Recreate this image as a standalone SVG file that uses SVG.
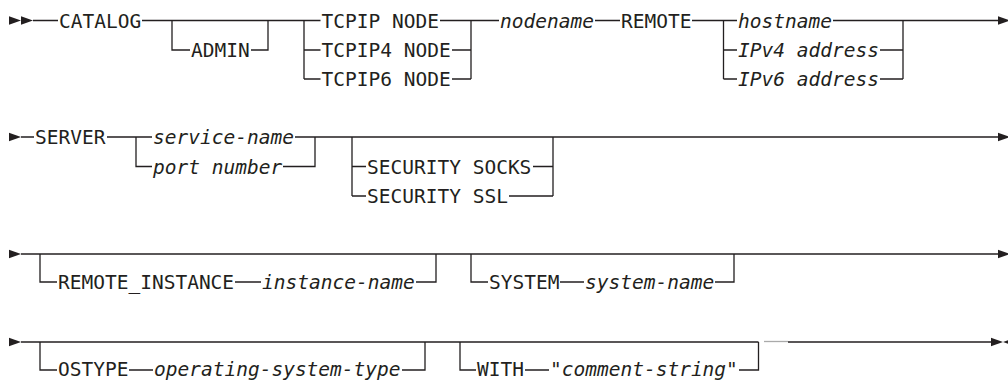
<svg xmlns="http://www.w3.org/2000/svg" width="1008" height="381" viewBox="0 0 1008 381">
<style>
text{font-family:"DejaVu Sans Mono","Liberation Mono",monospace;font-size:19.5px;fill:#231f20}
.v{font-style:italic}
.ln path,.nd path{fill:none;stroke:#231f20;stroke-width:1.3}
.ar{fill:#231f20;stroke:none}
</style>
<defs>
<path id="ra" class="ar" d="M0,-4.2 L12,0 L0,4.2 Z"/>
<path id="la" class="ar" d="M12,-4.2 L0,0 L12,4.2 Z"/>
</defs>
<g id="connectors" class="ln">
<path d="M33,20.5H58M142,20.5H320.5M440,20.5H499M595,20.5H620M692,20.5H737M833,20.5H999"/>
<path d="M21,137H34M107,137H152M295,137H999"/>
<path d="M21,254H999"/>
<path d="M21,342H758.5M788,342H991"/>
<path d="M764,341.5H788" style="stroke:#aaa"/>
</g>
<g id="terminals">
<use href="#ra" x="9" y="20.5"/><use href="#ra" x="21" y="20.5"/>
<use href="#ra" x="998" y="20.5"/>
<use href="#ra" x="9" y="137"/><use href="#ra" x="998" y="137"/>
<use href="#ra" x="9" y="254"/><use href="#ra" x="998" y="254"/>
<use href="#ra" x="9" y="342"/><use href="#ra" x="991" y="342"/><use href="#la" x="1003" y="342"/>
</g>
<g id="catalog" class="nd"><text x="59" y="27.5">CATALOG</text></g>
<g id="admin" class="nd"><path d="M172,20.5V50H190M251,50H268V20.5"/><text x="191" y="57">ADMIN</text></g>
<g id="protocol" class="nd">
<path d="M304,20.5V79M304,50H320.5M304,79H320.5M452,50H471M452,79H471M471,20.5V79"/>
<text x="321.5" y="27.5">TCPIP NODE</text>
<text x="321.5" y="57">TCPIP4 NODE</text>
<text x="321.5" y="86">TCPIP6 NODE</text>
</g>
<g id="nodename" class="nd"><text class="v" x="500" y="27.5">nodename</text></g>
<g id="remote" class="nd"><text x="621" y="27.5">REMOTE</text></g>
<g id="host" class="nd">
<path d="M723.5,20.5V79M723.5,50H737M723.5,79H737M880,50H903M880,79H903M903,20.5V79"/>
<text class="v" x="738" y="27.5">hostname</text>
<text class="v" x="738" y="57">IPv4 address</text>
<text class="v" x="738" y="86">IPv6 address</text>
</g>
<g id="server" class="nd"><text x="35" y="144">SERVER</text></g>
<g id="service" class="nd">
<path d="M136,137V166.5H152M283,166.5H315V137"/>
<text class="v" x="153" y="144">service-name</text>
<text class="v" x="153" y="173.5">port number</text>
</g>
<g id="security" class="nd">
<path d="M352,137V196M352,166.5H366M352,196H366M533,166.5H553M509,196H553M553,137V196"/>
<text x="367" y="173.5">SECURITY SOCKS</text>
<text x="367" y="203">SECURITY SSL</text>
</g>
<g id="remote-instance" class="nd">
<path d="M40,254V282H57M235,282H261M416,282H436V254"/>
<text x="58" y="289">REMOTE_INSTANCE</text>
<text class="v" x="262" y="289">instance-name</text>
</g>
<g id="system" class="nd">
<path d="M471,254V282H488M560,282H584M715,282H734V254"/>
<text x="489" y="289">SYSTEM</text>
<text class="v" x="585" y="289">system-name</text>
</g>
<g id="ostype" class="nd">
<path d="M40,342V370H57M129,370H153M402,370H425V342"/>
<text x="58" y="376">OSTYPE</text>
<text class="v" x="154" y="376">operating-system-type</text>
</g>
<g id="with" class="nd">
<path d="M460,342V370H476M525,370H549M739,370H758.5V342"/>
<text x="477" y="376">WITH</text>
<text class="v" x="550" y="376">"comment-string"</text>
</g>
</svg>
